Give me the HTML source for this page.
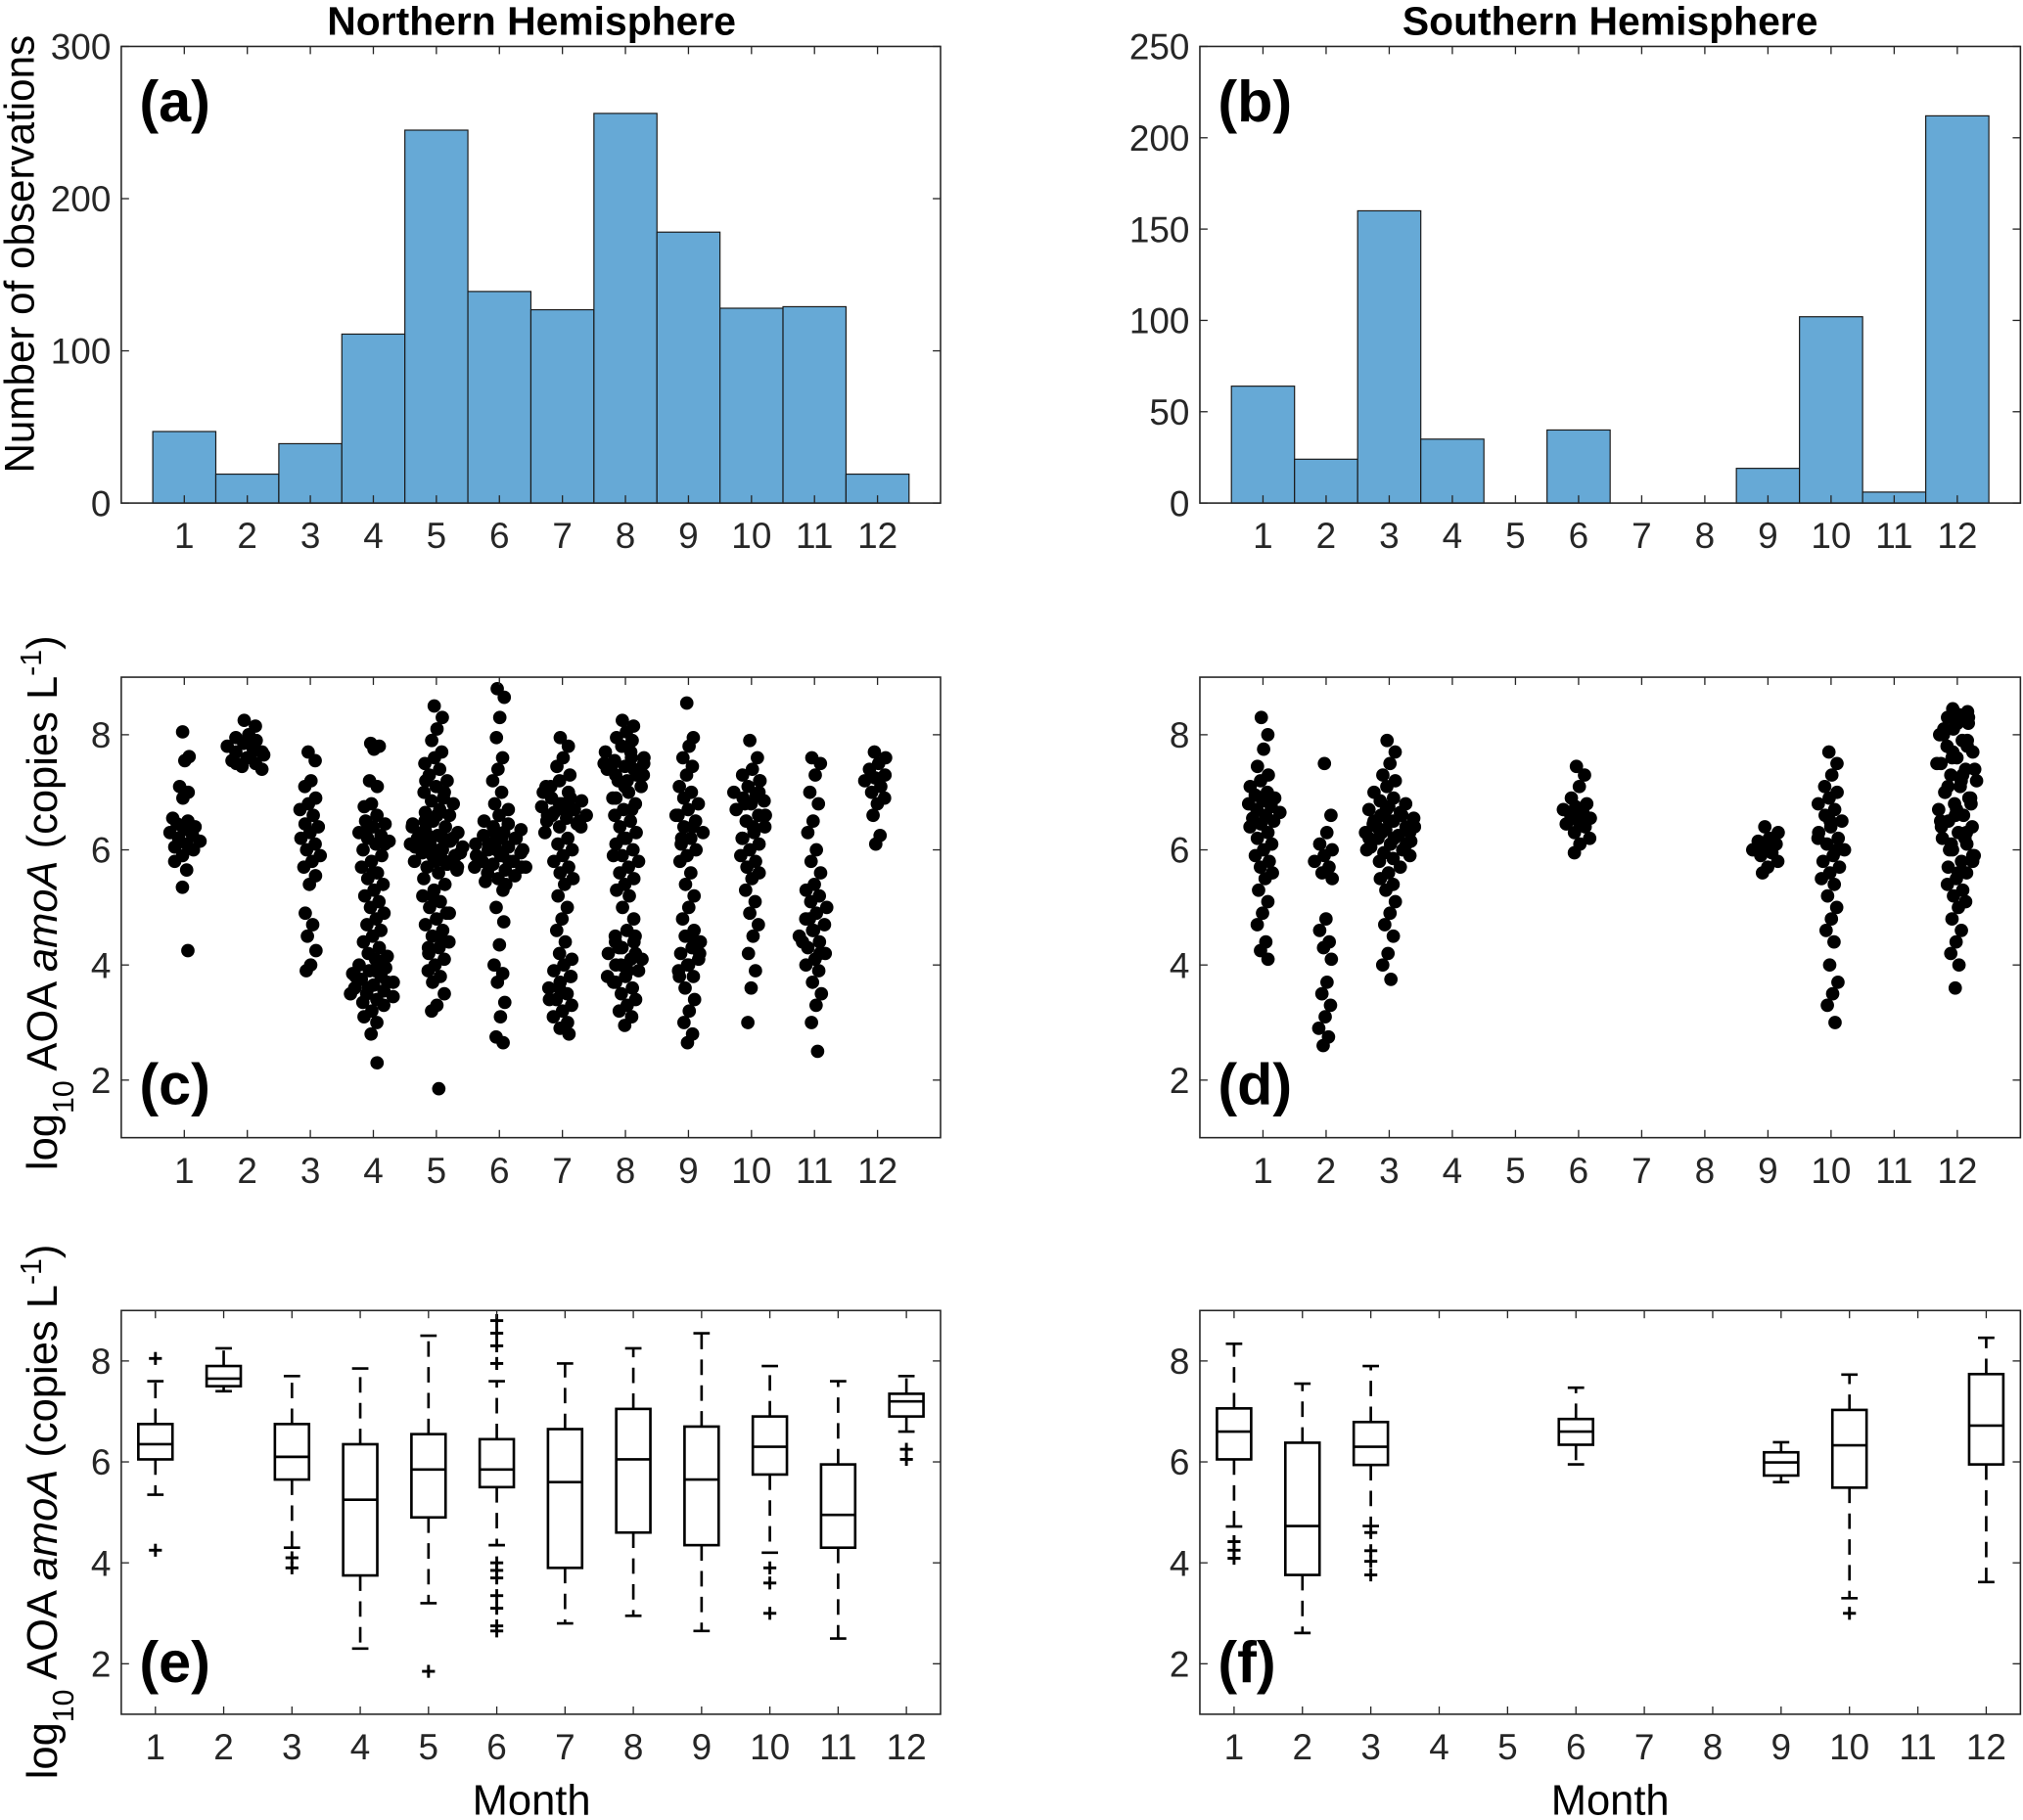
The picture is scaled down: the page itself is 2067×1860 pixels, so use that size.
<!DOCTYPE html>
<html><head><meta charset="utf-8"><style>
html,body{margin:0;padding:0;background:#fff;}
svg{display:block;font-family:"Liberation Sans",Arial,sans-serif;}
</style></head><body>
<svg id="fig" xmlns="http://www.w3.org/2000/svg" width="2067" height="1860" viewBox="0 0 1568 1411" preserveAspectRatio="none">
<rect width="1568" height="1411" fill="#fff"/>
<text x="412" y="27" font-size="31" font-weight="bold" text-anchor="middle">Northern Hemisphere</text>
<text x="1248" y="27" font-size="31" font-weight="bold" text-anchor="middle">Southern Hemisphere</text>
<text transform="translate(26,197) rotate(-90)" font-size="32" text-anchor="middle">Number of observations</text>
<text transform="translate(44,700) rotate(-90)" font-size="33" text-anchor="middle">log<tspan font-size="23" baseline-shift="sub">10</tspan> AOA  <tspan font-style="italic">amoA</tspan> (copies L<tspan font-size="23" baseline-shift="super">-1</tspan>)</text>
<text transform="translate(44,1172) rotate(-90)" font-size="33" text-anchor="middle">log<tspan font-size="23" baseline-shift="sub">10</tspan> AOA  <tspan font-style="italic">amoA</tspan> (copies L<tspan font-size="23" baseline-shift="super">-1</tspan>)</text>
<text x="412" y="1407" font-size="33" text-anchor="middle">Month</text>
<text x="1248" y="1407" font-size="33" text-anchor="middle">Month</text>
<g id="layer"></g>
</svg>
<script>
// ---- data ----
var months = [1,2,3,4,5,6,7,8,9,10,11,12];
var countsNH = [47,19,39,111,245,139,127,256,178,128,129,19];
var countsSH = [64,24,160,35,0,40,0,0,19,102,6,212];
var countTicksNH = [0,100,200,300];
var countTicksSH = [0,50,100,150,200,250];
var logTicks = [2,4,6,8];

var nh1 = "8.05 7.62 7.55 7.1 7.0 6.9 6.55 6.5 6.45 6.4 6.35 6.3 6.25 6.2 6.15 6.1 6.05 6.0 5.9 5.8 5.65 5.35 4.25";
var nh2 = "8.25 8.15 8.0 7.95 7.9 7.85 7.8 7.75 7.7 7.65 7.6 7.55 7.5 7.45 7.4 7.6 7.5 7.7";
var nh3 = "7.7 7.55 7.2 7.1 6.9 6.8 6.7 6.6 6.45 6.4 6.3 6.2 6.1 6.0 5.9 5.8 5.7 5.55 5.4 4.9 4.7 4.5 4.25 4.0 3.9";
var nh4 = "7.85 7.8 7.75 7.2 7.1 6.8 6.75 6.6 6.5 6.45 6.4 6.3 6.25 6.2 6.15 6.1 6.0 5.9 5.8 5.7 5.6 5.5 5.4 5.3 5.2 5.1 5.0 4.9 4.8 4.7 4.6 4.5 4.4 4.3 4.2 4.15 4.1 4.0 3.95 3.9 3.85 3.8 3.75 3.7 3.65 3.6 3.55 3.5 3.45 3.4 3.35 3.3 3.2 3.1 3.0 2.8 2.3 3.9 3.8 3.7 3.6 3.5 4.0 6.3 6.1 5.6";
var nh5 = "8.5 8.3 8.1 7.9 7.7 7.6 7.5 7.4 7.3 7.2 7.1 7.0 6.9 6.85 6.8 6.7 6.65 6.6 6.5 6.45 6.4 6.35 6.3 6.25 6.2 6.15 6.1 6.05 6.0 5.95 5.9 5.85 5.8 5.75 5.7 5.65 5.6 5.5 5.4 5.3 5.2 5.1 5.0 4.9 4.8 4.7 4.6 4.5 4.4 4.3 4.2 4.1 4.0 3.9 3.8 3.7 3.5 3.3 3.2 1.85 6.0 6.1 6.2 6.3 5.9 5.8 6.05 6.15 6.25 5.95 6.0 6.1 6.2 5.9 6.4 5.8 6.5 5.7 6.6 7.2 7.0 5.2 4.9 4.5 4.3";
var nh6 = "8.8 8.65 8.3 7.95 7.6 7.4 7.2 7.0 6.8 6.7 6.6 6.5 6.45 6.4 6.35 6.3 6.25 6.2 6.15 6.1 6.05 6.0 5.95 5.9 5.85 5.8 5.75 5.7 5.65 5.6 5.55 5.5 5.45 5.4 6.1 6.0 5.9 5.8 6.2 6.3 5.7 5.3 5.0 4.75 4.35 4.0 3.85 3.7 3.35 3.1 2.75 2.65 6.0 5.9 5.8 6.1 5.7 6.2";
var nh7 = "7.95 7.8 7.6 7.45 7.3 7.2 7.1 7.0 6.9 6.85 6.8 6.75 6.7 6.65 6.6 6.55 6.5 6.45 6.4 6.3 6.2 6.1 6.0 5.9 5.8 5.7 5.6 5.5 5.4 5.2 5.0 4.8 4.6 4.4 4.2 4.1 4.0 3.9 3.8 3.7 3.6 3.5 3.4 3.3 3.2 3.1 3.0 2.9 2.8 6.7 6.6 6.5 6.8 7.0 6.9 6.6 6.4 6.7 7.1 3.8 3.6 3.4";
var nh8 = "8.25 8.15 8.05 7.95 7.9 7.8 7.7 7.6 7.55 7.5 7.45 7.4 7.3 7.2 7.1 7.0 6.9 6.8 6.7 6.6 6.5 6.4 6.3 6.2 6.1 6.0 5.9 5.8 5.7 5.6 5.5 5.4 5.3 5.2 5.0 4.8 4.6 4.5 4.4 4.3 4.2 4.1 4.0 3.9 3.8 3.7 3.6 3.5 3.4 3.3 3.2 3.1 2.95 7.5 7.4 7.3 7.6 7.2 4.4 4.2 4.0 3.8 7.7 7.5 7.3 7.1 6.9 6.7 4.3 4.1 3.9 3.7 4.5 6.2 5.9";
var nh9 = "8.55 7.95 7.8 7.6 7.45 7.3 7.1 7.0 6.9 6.8 6.7 6.6 6.5 6.4 6.3 6.2 6.1 6.0 5.9 5.8 5.6 5.4 5.2 5.0 4.8 4.6 4.5 4.4 4.3 4.2 4.1 4.0 3.9 3.8 3.6 3.4 3.2 3.0 2.8 2.65 6.6 6.4 6.2 4.2 4.0 3.8 4.4";
var nh10 = "7.9 7.6 7.4 7.3 7.2 7.1 7.0 6.95 6.9 6.85 6.8 6.7 6.6 6.5 6.4 6.3 6.2 6.1 6.0 5.9 5.8 5.7 5.6 5.5 5.3 5.1 4.9 4.7 4.5 4.2 3.9 3.6 3.0 7.0 6.8 6.6 6.4 6.2 7.2";
var nh11 = "7.6 7.5 7.3 7.0 6.8 6.5 6.3 6.0 5.8 5.6 5.4 5.3 5.2 5.1 5.0 4.9 4.8 4.7 4.6 4.5 4.4 4.3 4.2 4.1 4.0 3.9 3.7 3.5 3.3 3.0 2.5 4.6 4.4 4.2 4.8";
var nh12 = "7.7 7.6 7.5 7.4 7.3 7.25 7.2 7.1 7.0 6.9 6.8 6.6 6.25 6.1";

var sh1 = "8.3 8.0 7.75 7.45 7.3 7.2 7.1 7.0 6.95 6.9 6.85 6.8 6.75 6.7 6.65 6.6 6.55 6.5 6.45 6.4 6.3 6.2 6.1 6.0 5.9 5.8 5.7 5.6 5.5 5.3 5.1 4.9 4.7 4.4 4.25 4.1";
var sh2 = "7.5 6.6 6.3 6.1 6.0 5.9 5.8 5.7 5.6 5.5 4.8 4.6 4.4 4.3 4.1 3.7 3.5 3.3 3.1 2.9 2.75 2.6";
var sh3 = "7.9 7.7 7.5 7.3 7.2 7.1 7.0 6.9 6.85 6.8 6.75 6.7 6.65 6.6 6.55 6.5 6.45 6.4 6.35 6.3 6.25 6.2 6.15 6.1 6.05 6.0 5.95 5.9 5.85 5.8 5.7 5.6 5.5 5.4 5.3 5.1 4.9 4.7 4.5 4.2 4.0 3.75 6.4 6.3 6.5 6.2 6.6 6.3 6.4 6.2 6.5 6.1 6.7 6.0";
var sh6 = "7.45 7.3 7.1 6.9 6.8 6.75 6.7 6.65 6.6 6.55 6.5 6.45 6.4 6.3 6.2 6.1 5.95";
var sh9 = "6.4 6.3 6.2 6.15 6.1 6.05 6.0 5.95 5.9 5.8 5.7 5.6";
var sh10 = "7.7 7.5 7.3 7.1 7.0 6.9 6.8 6.7 6.6 6.5 6.4 6.3 6.2 6.1 6.0 5.9 5.8 5.7 5.6 5.5 5.4 5.2 5.0 4.8 4.6 4.4 4.0 3.7 3.5 3.3 3.0 6.5 6.2 6.0";
var sh12 = "8.45 8.4 8.35 8.3 8.2 8.1 8.0 7.9 7.8 7.7 7.6 7.5 7.4 7.3 7.2 7.1 7.0 6.9 6.8 6.7 6.6 6.5 6.4 6.3 6.2 6.1 6.0 5.9 5.8 5.7 5.6 5.5 5.4 5.3 5.2 5.1 5.0 4.8 4.6 4.4 4.2 4.0 3.6 8.3 8.2 8.0 7.8 7.6 7.4 7.2 7.0 6.8 6.6 6.4 6.2 6.0 5.8 5.6 8.1 7.9 7.7 7.5 7.3 7.1 6.9 6.7 6.5 6.3 6.1 5.9";
var scatterNH = [nh1,nh2,nh3,nh4,nh5,nh6,nh7,nh8,nh9,nh10,nh11,nh12];
var scatterSH = [sh1,sh2,sh3,"","",sh6,"","",sh9,sh10,"",sh12];

// box stats per month: [whiskerLow, q1, median, q3, whiskerHigh]
var boxNH = [[5.35,6.05,6.35,6.75,7.6],[7.4,7.5,7.65,7.9,8.25],[4.3,5.65,6.1,6.75,7.7],[2.3,3.75,5.25,6.35,7.85],[3.2,4.9,5.85,6.55,8.5],[4.35,5.5,5.85,6.45,7.6],[2.8,3.9,5.6,6.65,7.95],[2.95,4.6,6.05,7.05,8.25],[2.65,4.35,5.65,6.7,8.55],[4.2,5.75,6.3,6.9,7.9],[2.5,4.3,4.95,5.95,7.6],[6.6,6.9,7.2,7.35,7.7]];
var outNH = [[8.05,4.25],[],[4.1,3.9],[],[1.85],[7.95,8.3,8.55,8.8,4.0,3.85,3.7,3.35,3.1,2.75,2.65],[],[],[],[3.9,3.6,3.0],[],[6.25,6.05]];
var boxSH = [[4.72,6.05,6.6,7.06,8.34],[2.61,3.76,4.73,6.38,7.55],[4.73,5.94,6.3,6.79,7.9],null,null,[5.95,6.34,6.6,6.85,7.47],null,null,[5.6,5.73,5.99,6.19,6.39],[3.3,5.49,6.33,7.03,7.73],null,[3.62,5.95,6.72,7.74,8.46]];
var outSH = [[4.42,4.25,4.09],[],[4.6,4.24,4.03,3.76],[],[],[],[],[],[],[3.0],[],[]];

// ---- drawing ----
var NS = "http://www.w3.org/2000/svg";
var layer = document.getElementById('layer');
function el(tag, attrs, parent){ var e=document.createElementNS(NS,tag); for(var k in attrs) e.setAttribute(k,attrs[k]); (parent||layer).appendChild(e); return e; }
function parseVals(s){ return s.trim()===""?[]:s.trim().split(/\s+/).map(Number); }

function makeAxes(p){
  p.sx = function(v){ return p.x0 + (v-p.xmin)/(p.xmax-p.xmin)*(p.x1-p.x0); };
  p.sy = function(v){ return p.yb - (v-p.ymin)/(p.ymax-p.ymin)*(p.yb-p.yt); };
  var g = el('g',{});
  
  
  p.g = g;
  return p;
}
function frame(p, yTicks){
  var g=p.g, tl=6;
  months.forEach(function(m){
    var x=p.sx(m);
    el('line',{x1:x,y1:p.yb,x2:x,y2:p.yb-tl,stroke:'#262626','stroke-width':1},g);
    el('line',{x1:x,y1:p.yt,x2:x,y2:p.yt+tl,stroke:'#262626','stroke-width':1},g);
    var t=el('text',{x:x,y:p.yb+35,'font-size':28,'text-anchor':'middle',fill:'#262626'},g);
    
    
    t.textContent=m;
  });
  yTicks.forEach(function(v){
    var y=p.sy(v);
    el('line',{x1:p.x0,y1:y,x2:p.x0+tl,y2:y,stroke:'#262626','stroke-width':1},g);
    el('line',{x1:p.x1,y1:y,x2:p.x1-tl,y2:y,stroke:'#262626','stroke-width':1},g);
    var t=el('text',{x:p.x0-8,y:y+10,'font-size':28,'text-anchor':'end',fill:'#262626'},g);
    
    
    t.textContent=v;
  });
  var r=el('rect',{x:p.x0,y:p.yt,width:p.x1-p.x0,height:p.yb-p.yt,fill:'none',stroke:'#262626','stroke-width':1.2},g);
  
  
  var lab=el('text',{x:p.x0+14,y:p.labelY,'font-size':45,'font-weight':'bold'},g);
  
  
  lab.textContent=p.label;
}
function bars(p, counts){
  counts.forEach(function(c,i){
    if(c<=0) return;
    var m=months[i];
    var r=el('rect',{x:p.sx(m-0.5),y:p.sy(c),width:p.sx(m+0.5)-p.sx(m-0.5),height:p.sy(0)-p.sy(c),fill:'#66a9d6',stroke:'#1a1a1a','stroke-width':0.9},p.g);
    
    
  });
}
function scatter(p, lists){
  lists.forEach(function(s,i){
    var vals=parseVals(s), m=months[i];
    vals.forEach(function(v,j){
      var n=0; vals.forEach(function(w){ if(Math.abs(w-v)<0.3) n++; });
      var hw=Math.min(0.42,0.05+0.02*n);
      var f=((j*0.61803398+0.31)%1)*2-1;
      var c=el('circle',{cx:p.sx(m+f*hw),cy:p.sy(v),r:5.2,fill:'#000'},p.g);
      
      
    });
  });
}
function boxes(p, stats, outs){
  stats.forEach(function(b,i){
    if(!b) return;
    var m=months[i], g=el('g',{},p.g);
    
    
    var xl=p.sx(m-0.25), xr=p.sx(m+0.25), xc=p.sx(m), cl=p.sx(m-0.12), cr=p.sx(m+0.12);
    var st={stroke:'#000','stroke-width':2,fill:'none'};
    el('line',Object.assign({x1:xc,y1:p.sy(b[3]),x2:xc,y2:p.sy(b[4]),'stroke-dasharray':'12,8'},st),g);
    el('line',Object.assign({x1:xc,y1:p.sy(b[1]),x2:xc,y2:p.sy(b[0]),'stroke-dasharray':'12,8'},st),g);
    el('line',Object.assign({x1:cl,y1:p.sy(b[4]),x2:cr,y2:p.sy(b[4])},st),g);
    el('line',Object.assign({x1:cl,y1:p.sy(b[0]),x2:cr,y2:p.sy(b[0])},st),g);
    el('rect',Object.assign({x:xl,y:p.sy(b[3]),width:xr-xl,height:p.sy(b[1])-p.sy(b[3])},st),g);
    el('line',Object.assign({x1:xl,y1:p.sy(b[2]),x2:xr,y2:p.sy(b[2])},st),g);
    (outs[i]||[]).forEach(function(o){
      var y=p.sy(o);
      el('line',{x1:xc-5,y1:y,x2:xc+5,y2:y,stroke:'#000','stroke-width':2.2},g);
      el('line',{x1:xc,y1:y-5,x2:xc,y2:y+5,stroke:'#000','stroke-width':2.2},g);
    });
  });
}

var pa=makeAxes({name:'panel-a-histogram-north',x0:94,x1:729,xmin:0,xmax:13,yb:390,yt:36,ymin:0,ymax:300,label:'(a)',labelY:94});
bars(pa,countsNH); frame(pa,countTicksNH);
var pb=makeAxes({name:'panel-b-histogram-south',x0:930,x1:1566,xmin:0,xmax:13,yb:390,yt:36,ymin:0,ymax:250,label:'(b)',labelY:94});
bars(pb,countsSH); frame(pb,countTicksSH);
var pc=makeAxes({name:'panel-c-scatter-north',x0:94,x1:729,xmin:0,xmax:13,yb:882,yt:525,ymin:1,ymax:9,label:'(c)',labelY:856});
scatter(pc,scatterNH); frame(pc,logTicks);
var pd=makeAxes({name:'panel-d-scatter-south',x0:930,x1:1566,xmin:0,xmax:13,yb:882,yt:525,ymin:1,ymax:9,label:'(d)',labelY:856});
scatter(pd,scatterSH); frame(pd,logTicks);
var pe=makeAxes({name:'panel-e-boxplot-north',x0:94,x1:729,xmin:0.5,xmax:12.5,yb:1329,yt:1016,ymin:1,ymax:9,label:'(e)',labelY:1304});
boxes(pe,boxNH,outNH); frame(pe,logTicks);
var pf=makeAxes({name:'panel-f-boxplot-south',x0:930,x1:1566,xmin:0.5,xmax:12.5,yb:1329,yt:1016,ymin:1,ymax:9,label:'(f)',labelY:1304});
boxes(pf,boxSH,outSH); frame(pf,logTicks);
</script>
</body></html>
